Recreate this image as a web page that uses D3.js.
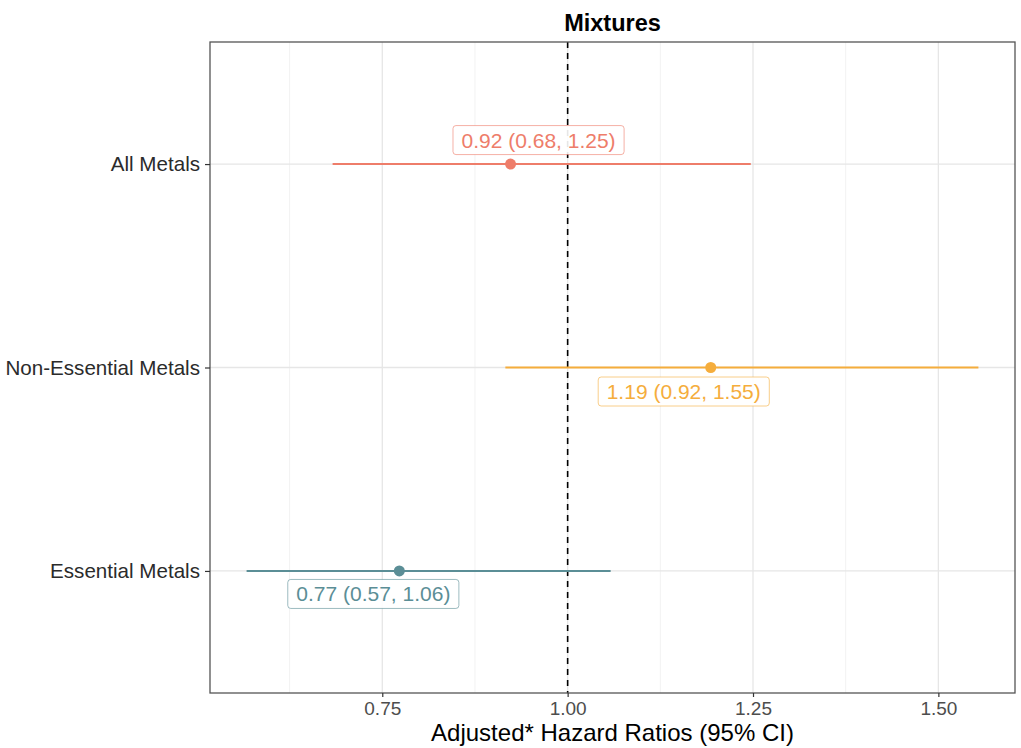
<!DOCTYPE html>
<html>
<head>
<meta charset="utf-8">
<script src="https://cdn.jsdelivr.net/npm/d3@7"></script>
<style>
  html, body { margin: 0; padding: 0; background: #fff; }
  svg { display: block; font-family: "Liberation Sans", Arial, sans-serif; }
</style>
</head>
<body>
<svg id="chart" width="1021" height="748"></svg>
<script>
// ---- data ----
const categories = ["All Metals", "Non-Essential Metals", "Essential Metals"];
const estimates  = [0.923, 1.193, 0.773];
const lowerCI    = [0.683, 0.916, 0.567];
const upperCI    = [1.247, 1.554, 1.058];
const labelTexts = ["0.92 (0.68, 1.25)", "1.19 (0.92, 1.55)", "0.77 (0.57, 1.06)"];
const colors     = ["#EE7D6A", "#F5AD3C", "#5B8E96"];
const xTicks     = [0.75, 1.00, 1.25, 1.50];
const xMinorTicks = [0.625, 0.875, 1.125, 1.375];
const title = "Mixtures";
const xTitle = "Adjusted* Hazard Ratios (95% CI)";

// ---- layout ----
const W = 1021, H = 748;
const panel = { left: 210, right: 1015, top: 42, bottom: 693 };
// label nudges (pixels) mimicking repelled label placement
const labelNudge = [[28, -24], [-27, 24], [-26, 23]];

const svg = d3.select("#chart");

// x scale with ggplot-like 5% expansion
const xmin = d3.min(lowerCI), xmax = d3.max(upperCI);
const pad = (xmax - xmin) * 0.05;
const x = d3.scaleLinear().domain([xmin - pad, xmax + pad]).range([panel.left, panel.right]);

// discrete y: bottom = last category, expansion 0.6
const order = categories.slice().reverse();
const yLin = d3.scaleLinear().domain([0.4, order.length + 0.6]).range([panel.bottom, panel.top]);
const y = c => yLin(order.indexOf(c) + 1);

// panel background
svg.append("rect").attr("x", panel.left).attr("y", panel.top)
  .attr("width", panel.right - panel.left).attr("height", panel.bottom - panel.top)
  .attr("fill", "#fff");

// grid
const grid = svg.append("g");
grid.selectAll(".minor").data(xMinorTicks).join("line")
  .attr("x1", d => x(d)).attr("x2", d => x(d))
  .attr("y1", panel.top).attr("y2", panel.bottom)
  .attr("stroke", "#f2f2f2").attr("stroke-width", 1);
grid.selectAll(".major").data(xTicks).join("line")
  .attr("x1", d => x(d)).attr("x2", d => x(d))
  .attr("y1", panel.top).attr("y2", panel.bottom)
  .attr("stroke", "#e6e6e6").attr("stroke-width", 1.3);
grid.selectAll(".ymajor").data(categories).join("line")
  .attr("x1", panel.left).attr("x2", panel.right)
  .attr("y1", d => y(d)).attr("y2", d => y(d))
  .attr("stroke", "#e6e6e6").attr("stroke-width", 1.3);

// reference line at 1
svg.append("line")
  .attr("x1", x(1)).attr("x2", x(1))
  .attr("y1", panel.top).attr("y2", panel.bottom)
  .attr("stroke", "#000").attr("stroke-width", 1.6)
  .attr("stroke-dasharray", "6,5");

// error bars
svg.append("g").selectAll("line").data(categories).join("line")
  .attr("x1", (d, i) => x(lowerCI[i])).attr("x2", (d, i) => x(upperCI[i]))
  .attr("y1", d => y(d)).attr("y2", d => y(d))
  .attr("stroke", (d, i) => colors[i]).attr("stroke-width", 2);

// points
svg.append("g").selectAll("circle").data(categories).join("circle")
  .attr("cx", (d, i) => x(estimates[i])).attr("cy", d => y(d))
  .attr("r", 5.5).attr("fill", (d, i) => colors[i]);

// labels
const lblG = svg.append("g");
categories.forEach((c, i) => {
  const cx = x(estimates[i]) + labelNudge[i][0];
  const cy = y(c) + labelNudge[i][1];
  const g = lblG.append("g");
  const t = g.append("text")
    .attr("x", cx).attr("y", cy)
    .attr("text-anchor", "middle").attr("dominant-baseline", "central")
    .attr("font-size", 21).attr("fill", colors[i])
    .text(labelTexts[i]);
  const bb = t.node().getBBox();
  g.insert("rect", "text")
    .attr("x", cx - bb.width / 2 - 8.5).attr("y", cy - 14.5)
    .attr("width", bb.width + 17).attr("height", 29)
    .attr("rx", 3).attr("ry", 3)
    .attr("fill", "#fff").attr("fill-opacity", 0.9)
    .attr("stroke", colors[i]).attr("stroke-opacity", 0.6).attr("stroke-width", 1);
});

// panel border
svg.append("rect").attr("x", panel.left).attr("y", panel.top)
  .attr("width", panel.right - panel.left).attr("height", panel.bottom - panel.top)
  .attr("fill", "none").attr("stroke", "#555").attr("stroke-width", 1.3);

// x axis
const xAxis = d3.axisBottom(x).tickValues(xTicks).tickFormat(d3.format(".2f")).tickSize(4).tickPadding(5);
const gx = svg.append("g").attr("transform", `translate(0,${panel.bottom})`).call(xAxis);
gx.select(".domain").remove();
gx.selectAll("line").attr("stroke", "#333").attr("stroke-width", 1.2);
gx.selectAll("text").attr("font-size", 19).attr("fill", "#4d4d4d")
  .attr("font-family", "'Liberation Sans', Arial, sans-serif");

// y axis
const yBand = d3.scaleOrdinal().domain(categories).range(categories.map(y));
const yAxis = d3.axisLeft(yBand).tickSize(5).tickPadding(5);
const gy = svg.append("g").attr("transform", `translate(${panel.left},0)`).call(yAxis);
gy.select(".domain").remove();
gy.selectAll("line").attr("stroke", "#333").attr("stroke-width", 1.2);
gy.selectAll("text").attr("font-size", 20.6).attr("fill", "#2b2b2b")
  .attr("font-family", "'Liberation Sans', Arial, sans-serif");

// title
svg.append("text")
  .attr("x", (panel.left + panel.right) / 2).attr("y", 31)
  .attr("text-anchor", "middle").attr("font-size", 23.5).attr("font-weight", "bold")
  .attr("fill", "#000").text(title);

// x axis title
svg.append("text")
  .attr("x", (panel.left + panel.right) / 2).attr("y", 741)
  .attr("text-anchor", "middle").attr("font-size", 24)
  .attr("fill", "#000").text(xTitle);
</script>
</body>
</html>
